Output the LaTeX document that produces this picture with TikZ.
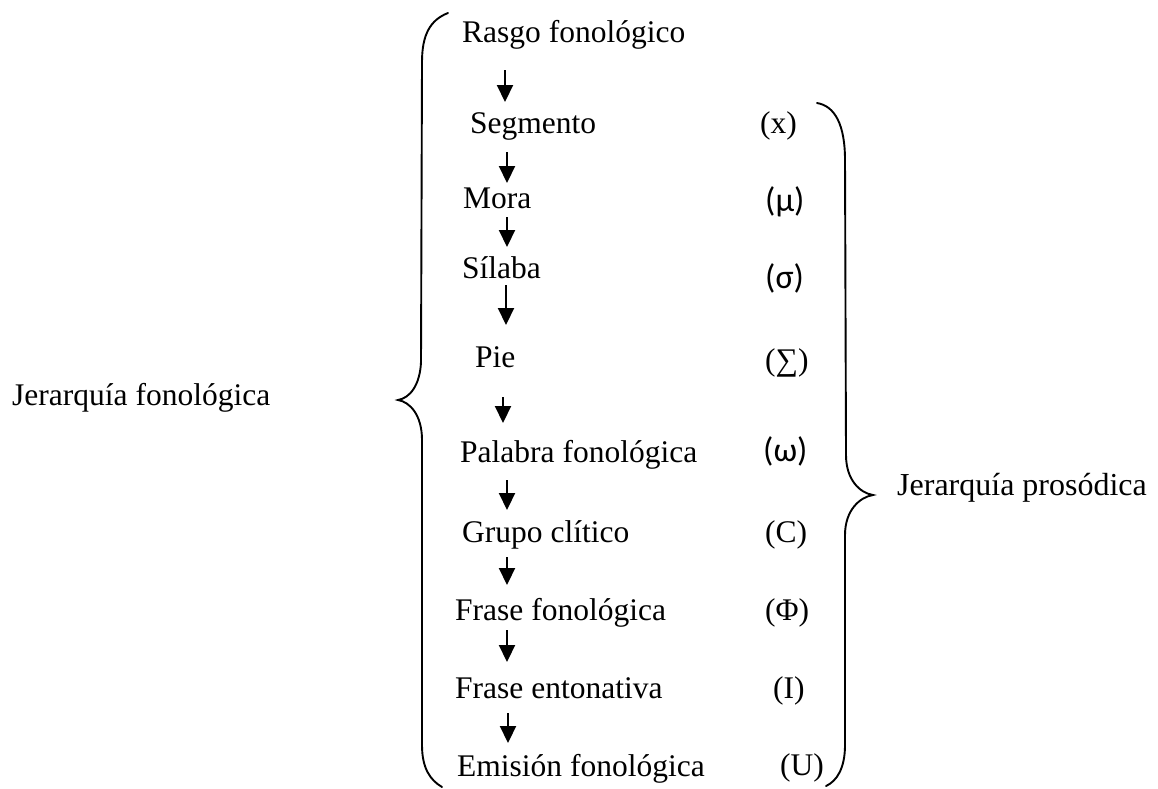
\documentclass[tikz,border=0pt]{standalone}
\usepackage{fontspec}
\setmainfont{Liberation Serif}
\newfontfamily\calib{Carlito}
\usetikzlibrary{arrows.meta,calc}
\tikzset{
  lbl/.style={anchor=base west,inner sep=0pt,font=\fontsize{31.5}{36}\selectfont},
  sym/.style={anchor=base west,inner sep=0pt,font=\fontsize{31.5}{36}\selectfont},
  csym/.style={anchor=base west,inner sep=0pt,font=\fontsize{34}{38}\selectfont\calib},
  arr/.style={line width=2.1pt,-{Triangle[width=16pt,length=17pt]}},
  brace/.style={line width=1.9pt,line cap=round}
}
\begin{document}
\begin{tikzpicture}[x=1pt,y=-1pt]
\useasboundingbox (0,0) rectangle (1158,788);
% left labels
\node[lbl] (jf) at (12,405) {Jerarquía fonológica};
\node[lbl,font=\fontsize{32}{36}\selectfont] (jp) at (897,495) {Jerarquía prosódica};
% column
\node[lbl] (rasgo) at (462,42) {Rasgo fonológico};
\node[lbl] (segm) at (470,133) {Segmento};
\node[lbl] (mora) at (463,208) {Mora};
\node[lbl] (silaba) at (462,278) {Sílaba};
\node[lbl] (pie) at (475,367) {Pie};
\node[lbl] (palabra) at (460,462) {Palabra fonológica};
\node[lbl] (grupo) at (462,542) {Grupo clítico};
\node[lbl] (frasef) at (455,620) {Frase fonológica};
\node[lbl] (frasee) at (455,698) {Frase entonativa};
\node[lbl] (emision) at (457,776) {Emisión fonológica};
% symbols
\node[sym] (sx) at (760,133) {(x)};
\node[csym] (smu) at (765,211) {(μ)};
\node[csym] (ssig) at (765,288) {(σ)};
\node[sym] (ssum) at (765,370) {(∑)};
\node[csym] (som) at (763,461) {(ω)};
\node[sym] (sc) at (765,542) {(C)};
\node[sym] (sphi) at (765,620) {(Φ)};
\node[sym] (si) at (773,698) {(I)};
\node[sym] (su) at (780,775) {(U)};
% arrows
\draw[arr] ($(rasgo.base west)+(43,28)$) -- ($(segm.base west)+(35,-31)$);
\draw[arr] ($(segm.base west)+(37,19)$) -- ($(mora.base west)+(44,-25)$);
\draw[arr] ($(mora.base west)+(44,9)$) -- ($(silaba.base west)+(45,-31)$);
\draw[arr] ($(silaba.base west)+(44,7)$) -- ($(pie.base west)+(31,-42)$);
\draw[arr] ($(pie.base west)+(28,30)$) -- ($(palabra.base west)+(43,-39)$);
\draw[arr] ($(palabra.base west)+(47,18)$) -- ($(grupo.base west)+(45,-32)$);
\draw[arr] ($(grupo.base west)+(45,15)$) -- ($(frasef.base west)+(52,-35)$);
\draw[arr] ($(frasef.base west)+(52,10)$) -- ($(frasee.base west)+(52,-36)$);
\draw[arr] ($(frasee.base west)+(53,15)$) -- ($(emision.base west)+(51,-33)$);
% left brace
\coordinate (lt) at (448,13);
\coordinate (ltip) at (398,400);
\coordinate (lb) at (442,787);
\draw[brace] (lt) .. controls (430,20) and (422,35) .. (422,62)
  -- (421,362) .. controls (420,385) and (410,398) .. (ltip)
  .. controls (410,402) and (422,415) .. (422,440)
  -- (422,745) .. controls (422,768) and (430,780) .. (lb);
% right brace
\coordinate (rt) at (817,103);
\coordinate (rtip) at (873,495);
\coordinate (rb) at (826,786);
\draw[brace] (rt) .. controls (835,106) and (845,125) .. (845,160)
  -- (846,455) .. controls (846,480) and (860,493) .. (rtip)
  .. controls (860,497) and (845,510) .. (845,535)
  -- (845,745) .. controls (845,768) and (837,781) .. (rb);
\end{tikzpicture}
\end{document}
